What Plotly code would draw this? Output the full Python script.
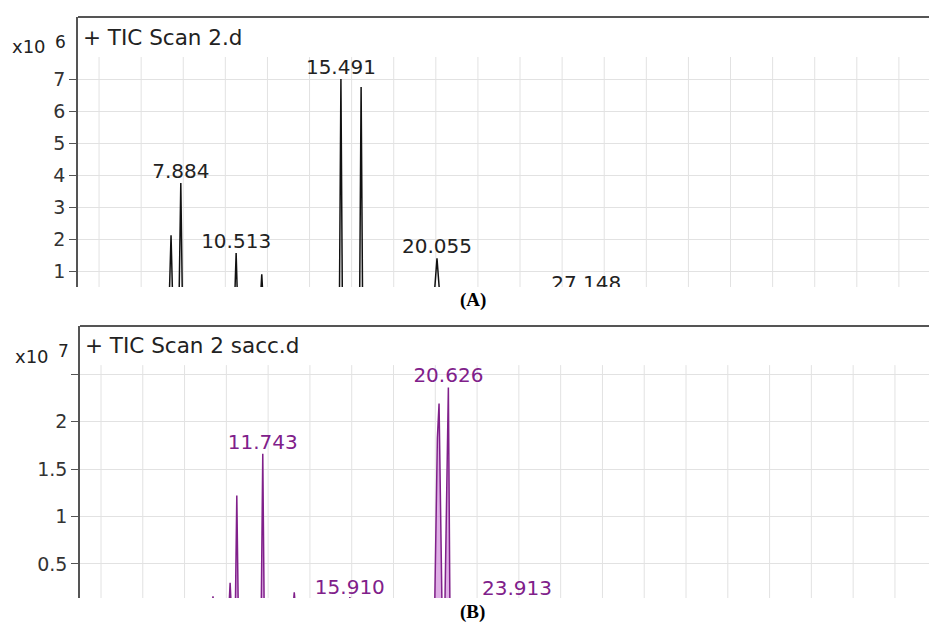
import plotly.graph_objects as go

W, H = 929, 624

# ---------------- data (panel A: x10^6 counts, panel B: x10^7 counts) ----------------
a_time = [3.0, 7.33, 7.42, 7.50, 7.80, 7.884, 7.96, 10.44, 10.513, 10.58,
          11.66, 11.73, 11.80, 15.42, 15.491, 15.56, 16.38, 16.45, 16.52,
          19.90, 20.055, 20.21, 27.08, 27.148, 27.22, 43.6]
a_int = [0.02, 0.03, 2.12, 0.04, 0.04, 3.75, 0.05, 0.03, 1.56, 0.03,
         0.03, 0.90, 0.03, 0.04, 7.00, 0.05, 0.05, 6.75, 0.04,
         0.03, 1.40, 0.03, 0.02, 0.25, 0.02, 0.01]
a_label_time = [7.884, 10.513, 15.491, 20.055, 27.148]
a_label_int = [3.75, 1.56, 7.00, 1.40, 0.25]
a_label_text = ["7.884", "10.513", "15.491", "20.055", "27.148"]
a_yticks = [1, 2, 3, 4, 5, 6, 7]
a_yticktext = ["1", "2", "3", "4", "5", "6", "7"]

b_time = [3.0, 9.30, 9.36, 9.42, 10.12, 10.18, 10.24, 10.43, 10.50, 10.57,
          11.67, 11.743, 11.81, 13.18, 13.25, 13.32, 15.84, 15.91, 15.98,
          19.97, 20.10, 20.18, 20.32, 20.46, 20.626, 20.70, 23.84, 23.913, 23.99, 43.7]
b_int = [0.01, 0.01, 0.16, 0.01, 0.02, 0.30, 0.02, 0.02, 1.22, 0.02,
         0.02, 1.66, 0.02, 0.01, 0.20, 0.01, 0.01, 0.15, 0.01,
         0.02, 1.83, 2.19, 0.05, 0.06, 2.36, 0.03, 0.01, 0.12, 0.01, 0.01]
b_label_time = [11.743, 15.910, 20.626, 23.913]
b_label_int = [1.66, 0.13, 2.36, 0.12]
b_label_text = ["11.743", "15.910", "20.626", "23.913"]
b_yticks = [0.5, 1, 1.5, 2, 2.5]
b_yticktext = ["0.5", "1", "1.5", "2", ""]

grid_minutes = list(range(4, 44, 2))

# ---------------- layout geometry ----------------
def px(x):
    return x / W

def py(y):
    return 1 - y / H

FONT = "DejaVu Sans"
DARK = "#555555"
GRID = "#e2e2e2"
PURPLE = "#80208a"
TXT = "#222222"

fig = go.Figure()

fig.add_trace(go.Scatter(x=a_time, y=a_int, mode="lines",
                         line=dict(color="#111111", width=1.5),
                         xaxis="x", yaxis="y", hoverinfo="skip"))
fig.add_trace(go.Scatter(x=a_label_time, y=a_label_int, mode="text",
                         text=a_label_text, textposition="top center",
                         textfont=dict(family=FONT, size=20, color=TXT),
                         cliponaxis=True, xaxis="x", yaxis="y", hoverinfo="skip"))

fig.add_trace(go.Scatter(x=b_time, y=b_int, mode="lines",
                         line=dict(color=PURPLE, width=1.5),
                         fill="tozeroy", fillcolor="rgba(200,120,212,0.6)",
                         xaxis="x2", yaxis="y2", hoverinfo="skip"))
fig.add_trace(go.Scatter(x=b_label_time, y=b_label_int, mode="text",
                         text=b_label_text, textposition="top center",
                         textfont=dict(family=FONT, size=20, color=PURPLE),
                         cliponaxis=True, xaxis="x2", yaxis="y2", hoverinfo="skip"))

a_range_y = [0.5, 8.94]
b_range_y = [0.141, 3.007]

axis_common = dict(showgrid=False, zeroline=False)
yax_common = dict(ticks="outside", ticklen=7, tickcolor=DARK, tickwidth=1,
                  showline=True, linecolor=DARK, linewidth=1.5,
                  showgrid=True, gridcolor=GRID, gridwidth=1, zeroline=False,
                  tickfont=dict(family=FONT, size=19, color="#333333"))

fig.update_layout(
    width=W, height=H,
    margin=dict(l=0, r=0, t=0, b=0),
    paper_bgcolor="white", plot_bgcolor="white",
    showlegend=False,
    xaxis=dict(domain=[px(78), 1.0], range=[3.0, 43.43], showticklabels=False,
               ticks="", showline=False, anchor="y", **axis_common),
    yaxis=dict(domain=[py(287), py(17)], range=a_range_y, tickvals=a_yticks,
               ticktext=a_yticktext, anchor="x", **yax_common),
    xaxis2=dict(domain=[px(80), 1.0], range=[2.995, 43.63], showticklabels=False,
                ticks="", showline=False, anchor="y2", **axis_common),
    yaxis2=dict(domain=[py(598), py(326)], range=b_range_y, tickvals=b_yticks,
                ticktext=b_yticktext, anchor="x2", **yax_common),
)

shapes = []
# vertical grid lines, stopping below the title strip
for m in grid_minutes:
    shapes.append(dict(type="line", xref="x", yref="y", x0=m, x1=m,
                       y0=a_range_y[0], y1=7.69, layer="below",
                       line=dict(color=GRID, width=1)))
    shapes.append(dict(type="line", xref="x2", yref="y2", x0=m, x1=m,
                       y0=b_range_y[0], y1=2.595, layer="below",
                       line=dict(color=GRID, width=1)))
# top frame borders
shapes.append(dict(type="line", xref="x domain", yref="y domain", x0=0, x1=1,
                   y0=1, y1=1, line=dict(color=DARK, width=1.8)))
shapes.append(dict(type="line", xref="x2 domain", yref="y2 domain", x0=0, x1=1,
                   y0=1, y1=1, line=dict(color=DARK, width=1.8)))
fig.update_layout(shapes=shapes)

ann = []
ann.append(dict(text="+ TIC Scan 2.d", x=px(81), y=py(37), xref="paper", yref="paper",
                xanchor="left", yanchor="middle", showarrow=False,
                font=dict(family=FONT, size=21.5, color=TXT)))
ann.append(dict(text="+ TIC Scan 2 sacc.d", x=px(83), y=py(345), xref="paper", yref="paper",
                xanchor="left", yanchor="middle", showarrow=False,
                font=dict(family=FONT, size=21.5, color=TXT)))
for (xx, yy, base, exp) in [(10, 47, "x10", "6"), (13, 356, "x10", "7")]:
    ann.append(dict(text=base, x=px(xx), y=py(yy), xref="paper", yref="paper",
                    xanchor="left", yanchor="middle", showarrow=False,
                    font=dict(family=FONT, size=18, color=TXT)))
    ann.append(dict(text=exp, x=px(xx + 43), y=py(yy - 5), xref="paper", yref="paper",
                    xanchor="left", yanchor="middle", showarrow=False,
                    font=dict(family=FONT, size=17, color=TXT)))
ann.append(dict(text="<b>(A)</b>", x=px(473), y=py(300), xref="paper", yref="paper",
                xanchor="center", yanchor="middle", showarrow=False,
                font=dict(family="Liberation Serif", size=19, color="#000000")))
ann.append(dict(text="<b>(B)</b>", x=px(472), y=py(612), xref="paper", yref="paper",
                xanchor="center", yanchor="middle", showarrow=False,
                font=dict(family="Liberation Serif", size=19, color="#000000")))
fig.update_layout(annotations=ann)

fig.write_html("out.html", config={"displayModeBar": False},
               post_script="document.body.style.margin='0px';"
                           "document.body.style.overflow='hidden';")
